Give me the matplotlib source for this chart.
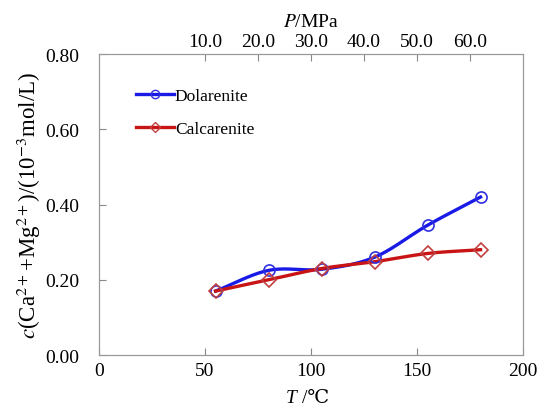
import numpy as np
import matplotlib
matplotlib.use('Agg')
import matplotlib.pyplot as plt

plt.rcParams['font.family'] = ['Liberation Serif', 'DejaVu Serif']
plt.rcParams['mathtext.fontset'] = 'stix'

temps = [55, 80, 105, 130, 155, 180]
dolarenite = [0.17, 0.225, 0.228, 0.26, 0.345, 0.42]
calcarenite = [0.17, 0.20, 0.23, 0.248, 0.27, 0.28]

p_ticks_t = [50, 75, 100, 125, 150, 175]
p_labels = ['10.0', '20.0', '30.0', '40.0', '50.0', '60.0']


def smooth(x, y, n=30):
    # catmull-rom curve through the points, like a spreadsheet "smoothed line"
    x = np.asarray(x, float)
    y = np.asarray(y, float)
    px = np.concatenate([[2 * x[0] - x[1]], x, [2 * x[-1] - x[-2]]])
    py = np.concatenate([[2 * y[0] - y[1]], y, [2 * y[-1] - y[-2]]])
    xs, ys = [], []
    t = np.linspace(0, 1, n)
    for i in range(1, len(px) - 2):
        for p, out in ((px, xs), (py, ys)):
            p0, p1, p2, p3 = p[i - 1], p[i], p[i + 1], p[i + 2]
            out.extend(0.5 * (2 * p1 + (-p0 + p2) * t
                              + (2 * p0 - 5 * p1 + 4 * p2 - p3) * t ** 2
                              + (-p0 + 3 * p1 - 3 * p2 + p3) * t ** 3))
    return xs, ys


fig = plt.figure(figsize=(5.47, 4.14), dpi=100)
ax = fig.add_axes([0.181, 0.140, 0.775, 0.727])

blue = '#1a1ae6'
red = '#c81414'

sx, sy = smooth(temps, dolarenite)
ax.plot(sx, sy, color=blue, lw=2.4, zorder=2)
ax.plot(temps, dolarenite, 'o', ms=8, mfc='none', mec='#3030e0', mew=1.2, zorder=3)
cx, cy = smooth(temps, calcarenite)
ax.plot(cx, cy, color=red, lw=2.4, zorder=2)
ax.plot(temps, calcarenite, 'D', ms=7, mfc='none', mec='#c04040', mew=1.2, zorder=3)

# legend drawn from proxy handles
ax.plot([], [], color=blue, lw=2.4, marker='o', ms=6, mfc='none', mec='#3030e0',
        label='Dolarenite')
ax.plot([], [], color=red, lw=2.4, marker='D', ms=5, mfc='none', mec='#c04040',
        label='Calcarenite')
ax.legend(loc='upper left', frameon=False, fontsize=12.5, handlelength=2.2,
          handletextpad=0.05, labelspacing=1.0, bbox_to_anchor=(0.05, 0.94))

ax.set_xlim(0, 200)
ax.set_ylim(0, 0.8)
ax.set_xticks([0, 50, 100, 150, 200])
ax.set_yticks([0, 0.2, 0.4, 0.6, 0.8])
ax.set_yticklabels(['0.00', '0.20', '0.40', '0.60', '0.80'])
ax.tick_params(direction='in', length=5, color='#888888', labelsize=14)
ax.tick_params(axis='y', pad=14)
ax.tick_params(axis='x', pad=5)
for s in ax.spines.values():
    s.set_color('#999999')

# bottom label: italic T, then the upright unit
fig.text(0.553, 0.018, '/℃', fontsize=14, ha='left', va='bottom')
fig.text(0.551, 0.018, 'T ', fontsize=14, style='italic', ha='right', va='bottom')
ax.set_ylabel(r'$c$(Ca$^{2+}$+Mg$^{2+}$)/(10$^{-3}$mol/L)', fontsize=16.5, labelpad=2)

top = ax.twiny()
top.set_xlim(ax.get_xlim())
top.set_xticks(p_ticks_t)
top.set_xticklabels(p_labels)
top.tick_params(direction='in', length=5, color='#888888', labelsize=14, pad=3)
for s in top.spines.values():
    s.set_color('#999999')
top.set_xlabel(r'$P$/MPa', fontsize=14, labelpad=5)

fig.savefig('out.png', dpi=100)
